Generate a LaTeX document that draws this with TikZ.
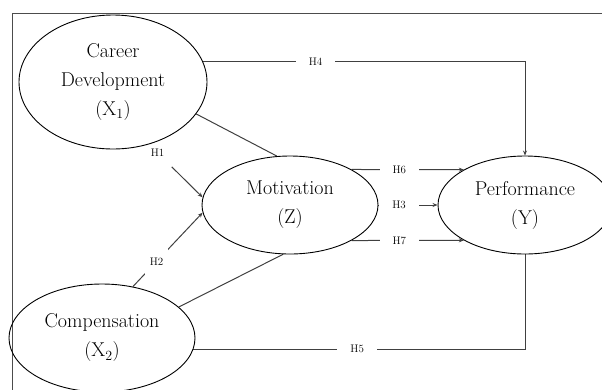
\documentclass[tikz,border=0pt]{standalone}
\usetikzlibrary{shapes.geometric,arrows.meta,backgrounds}
\begin{document}
\begin{tikzpicture}[x=1pt,y=-1pt,
  construct/.style={ellipse, draw=black, line width=0.9pt, inner sep=0pt, align=center,
    font=\fontsize{20}{29}\selectfont},
  conn/.style={draw=black!75, line width=1pt},
  arr/.style={conn, -{Stealth[length=5pt,width=4pt]}},
  lab/.style={font=\fontsize{11}{13}\selectfont, fill=white, inner xsep=13pt, inner ysep=2pt, text=black},
  labplain/.style={font=\fontsize{11}{13}\selectfont, inner sep=1pt, text=black},
  frame/.style={draw=black!70, line width=0.8pt}]
\useasboundingbox (0,0) rectangle (602,389);
\clip (0,0) rectangle (602,389);
% frame of the text box
\coordinate (fb) at (12,400);
\coordinate (ftl) at (12,13);
\coordinate (ftr) at (620,13);
\draw[frame] (fb) -- (ftl) -- (ftr);
% constructs
\node[construct, minimum width=188pt, minimum height=134pt] (cd) at (113,82) {Career\\Development\\(X\textsubscript{1})};
\node[construct, minimum width=176pt, minimum height=98pt] (mot) at (290,205) {Motivation\\(Z)};
\node[construct, minimum width=174pt, minimum height=98pt] (perf) at (525,205) {Performance\\(Y)};
\node[construct, minimum width=186pt, minimum height=108pt] (comp) at (102,338) {Compensation\\(X\textsubscript{2})};
% connectors
\begin{pgfonlayer}{background}
\draw[conn] (cd.-21) -- (mot.105);
\draw[conn] (comp.22) -- (mot.262);
\draw[arr, shorten <=32pt] (cd.-60) -- node[labplain, pos=0.16]{H1} (mot.175);
\draw[arr] (comp.59) -- node[lab, inner xsep=5pt, inner ysep=10pt, pos=0.34]{H2} (mot.185);
\draw[arr] (cd.13) -| node[lab, pos=0.175]{H4} (perf.north);
\draw[conn] (comp.-7) -| node[lab, pos=0.247]{H5} (perf.south);
\draw[arr] (mot.30) -- node[lab, pos=0.425]{H6} (perf.150);
\draw[arr] (mot.east) -- node[lab, pos=0.35]{H3} (perf.west);
\draw[arr] (mot.-30) -- node[lab, pos=0.425]{H7} (perf.-150);
\end{pgfonlayer}
\end{tikzpicture}
\end{document}
